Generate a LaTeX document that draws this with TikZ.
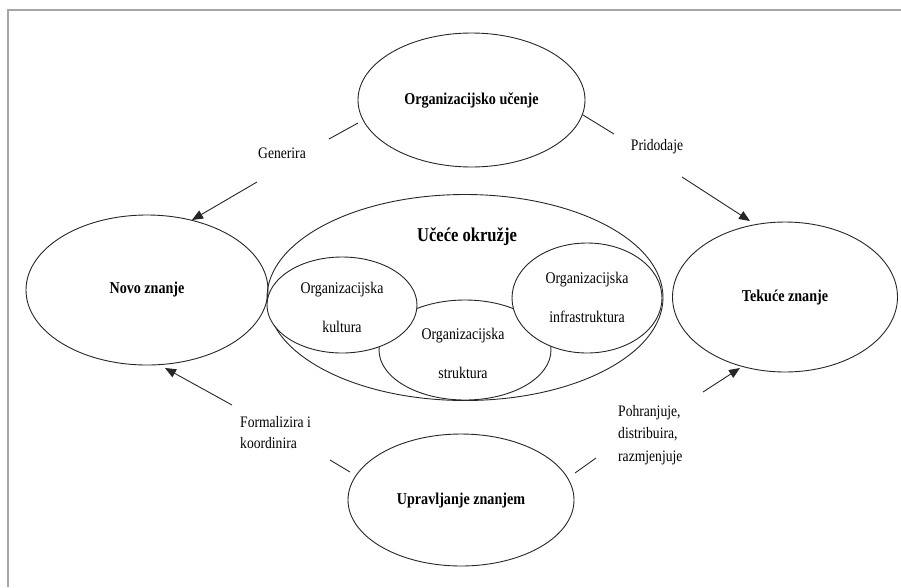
\documentclass[tikz,border=0pt]{standalone}
\usepackage{fontspec}
\setmainfont{Liberation Serif}[FakeStretch=0.85]
\usetikzlibrary{shapes.geometric,arrows.meta}
\begin{document}
\begin{tikzpicture}[x=1pt,y=-1pt,
  oval/.style={ellipse,draw=black!85,line width=0.9pt,inner sep=0pt},
  lbl/.style={font=\fontsize{16}{21}\selectfont,inner sep=0pt},
  ttl/.style={font=\fontsize{16.6}{21}\selectfont\bfseries},
  inner/.style={font=\fontsize{16.3}{39}\selectfont,inner sep=0pt,align=center},
  conn/.style={draw=black!85,line width=0.9pt},
  arr/.style={draw=black!85,line width=0.9pt,-{Triangle[length=11pt,width=9pt]}}]
\useasboundingbox (0,0) rectangle (901,587);
\draw[black!35,line width=1.5pt] (8,587) -- (8,10) -- (901,10);

% outer ellipses
\node[oval,ttl,minimum width=227pt,minimum height=134pt] (ou) at (471.5,100) {Organizacijsko učenje};
\node[oval,ttl,minimum width=242pt,minimum height=150pt] (nz) at (147,290) {Novo znanje};
\node[oval,ttl,minimum width=225pt,minimum height=150pt] (tz) at (785,297) {Tekuće znanje};
\node[oval,ttl,minimum width=226pt,minimum height=132pt] (uz) at (461,500) {Upravljanje znanjem};

% learning environment
\node[oval,minimum width=396pt,minimum height=206pt] (env) at (465,297.5) {};
\node[oval,fill=white,minimum width=172pt,minimum height=100pt] (str) at (465,350) {};
\node[oval,fill=white,minimum width=150pt,minimum height=96pt] (kul) at (342,305) {};
\node[oval,fill=white,minimum width=150pt,minimum height=110pt] (inf) at (587,298) {};
\node[font=\fontsize{19.5}{22}\selectfont\bfseries,inner sep=0pt] (envt) at (467,237) {Učeće okružje};
\node[inner] (kult) at (342,307) {Organizacijska\\kultura};
\node[inner] (strt) at (463,353) {Organizacijska\\struktura};
\node[inner] (inft) at (587,297) {Organizacijska\\infrastruktura};

% connector end points
\coordinate (g0) at (358,123); \coordinate (g1) at (329,139);
\coordinate (g2) at (257,182); \coordinate (g3) at (192,220);
\coordinate (p0) at (583,115); \coordinate (p1) at (614,134);
\coordinate (p2) at (682,177); \coordinate (p3) at (750,221);
\coordinate (f0) at (350,472); \coordinate (f1) at (330,460);
\coordinate (f2) at (232,405); \coordinate (f3) at (165,368);
\coordinate (h0) at (575,473); \coordinate (h1) at (596,458);
\coordinate (h2) at (703,392); \coordinate (h3) at (740,368);

\draw[conn] (g0) -- (g1); \draw[arr] (g2) -- (g3);
\draw[conn] (p0) -- (p1); \draw[arr] (p2) -- (p3);
\draw[conn] (f0) -- (f1); \draw[arr] (f2) -- (f3);
\draw[conn] (h0) -- (h1); \draw[arr] (h2) -- (h3);

% labels
\node[lbl] (gen) at (282,153) {Generira};
\node[lbl] (pri) at (657,147) {Pridodaje};
\node[lbl,align=left,anchor=west] (for) at (240,433) {Formalizira i\\koordinira};
\node[lbl,align=left,anchor=west,font=\fontsize{16}{22.5}\selectfont] (poh) at (618,435) {Pohranjuje,\\distribuira,\\razmjenjuje};
\end{tikzpicture}
\end{document}
